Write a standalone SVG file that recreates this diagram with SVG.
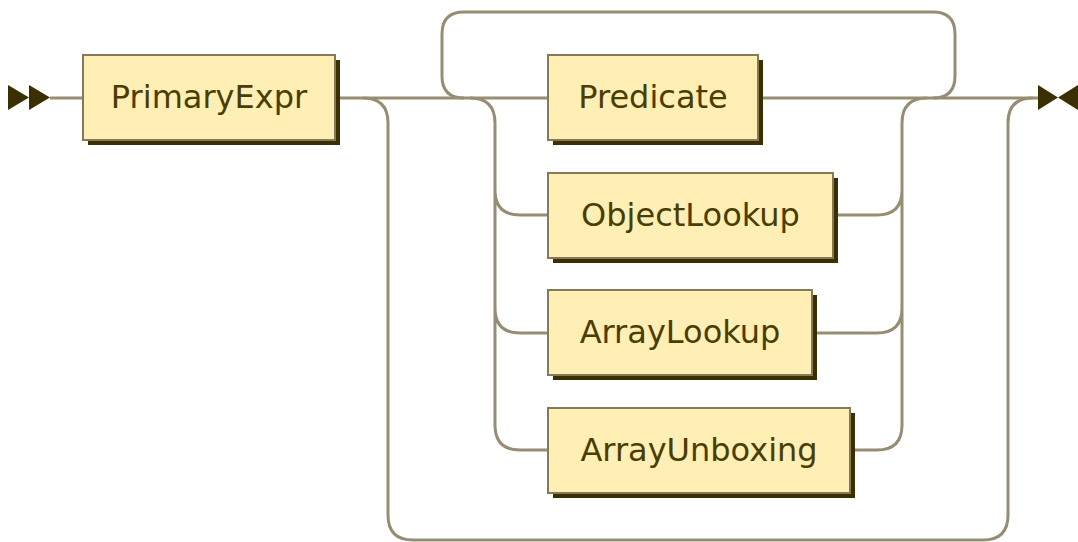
<svg xmlns="http://www.w3.org/2000/svg" width="1078" height="542" viewBox="0 0 1078 542">
<style>
.line{fill:none;stroke:#968D72;stroke-width:3}
.shadow{fill:#3A2F00}
.box{fill:#FFEFB4;stroke:#857A58;stroke-width:2}
.lbl{font-family:"DejaVu Sans",Verdana,sans-serif;font-size:32px;fill:#4A3D00;text-anchor:middle}
.arrow{fill:#3A2F00}
</style>
<rect width="1078" height="542" fill="#FFFFFF"/>
<g id="connectors">
<path class="line" d="M50 98 H83 M335 98 H548 M758 98 H1038"/>
<path class="line" d="M363 98 Q388 98 388 123 V515 Q388 540 413 540 H983 Q1008 540 1008 515 V123 Q1008 98 1033 98"/>
<path class="line" d="M464 98 Q442 98 442 76 V34 Q442 12 464 12 H933 Q955 12 955 34 V76 Q955 98 933 98"/>
<path class="line" d="M470 98 Q495 98 495 123 V425 Q495 450 520 450 H548 M495 190 Q495 215 520 215 H548 M495 308 Q495 333 520 333 H548"/>
<path class="line" d="M927 98 Q902 98 902 123 V425 Q902 450 877 450 H850 M833 215 H877 Q902 215 902 190 M812 333 H877 Q902 333 902 308"/>
</g>
<g id="start">
<polygon class="arrow" points="8,85 29,97.5 8,110"/>
<polygon class="arrow" points="29,85 50,97.5 29,110"/>
</g>
<g id="end">
<polygon class="arrow" points="1038,85 1058,97.5 1038,110"/>
<polygon class="arrow" points="1078,85 1058,97.5 1078,110"/>
</g>
<g id="PrimaryExpr">
<rect class="shadow" x="88" y="60" width="252" height="85"/>
<rect class="box" x="83" y="55" width="252" height="85"/>
<text class="lbl" x="209" y="108">PrimaryExpr</text>
</g>
<g id="Predicate">
<rect class="shadow" x="553" y="60" width="210" height="85"/>
<rect class="box" x="548" y="55" width="210" height="85"/>
<text class="lbl" x="653" y="108">Predicate</text>
</g>
<g id="ObjectLookup">
<rect class="shadow" x="553" y="178" width="285" height="85"/>
<rect class="box" x="548" y="173" width="285" height="85"/>
<text class="lbl" x="690.5" y="226">ObjectLookup</text>
</g>
<g id="ArrayLookup">
<rect class="shadow" x="553" y="295" width="264" height="85"/>
<rect class="box" x="548" y="290" width="264" height="85"/>
<text class="lbl" x="680" y="343">ArrayLookup</text>
</g>
<g id="ArrayUnboxing">
<rect class="shadow" x="553" y="413" width="302" height="85"/>
<rect class="box" x="548" y="408" width="302" height="85"/>
<text class="lbl" x="699" y="461">ArrayUnboxing</text>
</g>
</svg>
